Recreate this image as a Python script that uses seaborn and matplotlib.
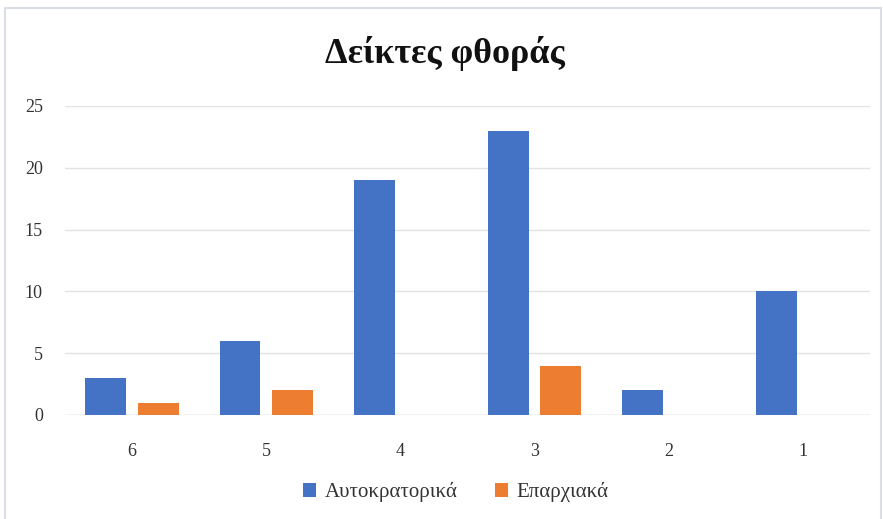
import matplotlib
matplotlib.use("Agg")
import matplotlib.pyplot as plt
import seaborn as sns
import pandas as pd
from matplotlib.patches import Rectangle

categories = ["6", "5", "4", "3", "2", "1"]
series_names = ["Αυτοκρατορικά", "Επαρχιακά"]
imperial = [3, 6, 19, 23, 2, 10]
provincial = [1, 2, 0, 4, 0, 0]
yticks = [0, 5, 10, 15, 20, 25]
title = "Δείκτες φθοράς"

df = pd.DataFrame({
    "cat": categories * 2,
    "val": imperial + provincial,
    "series": [series_names[0]] * len(categories) + [series_names[1]] * len(categories),
})

sns.set_theme(style="white")
plt.rcParams['font.family'] = ['Liberation Serif', 'DejaVu Serif']

fig = plt.figure(figsize=(8.83, 5.19), dpi=100)
ax = fig.add_axes([0.0736, 0.2004, 0.9114, 0.5954])

palette = {series_names[0]: "#4472C4", series_names[1]: "#ED7D31"}
sns.barplot(data=df, x="cat", y="val", hue="series", order=categories,
            hue_order=series_names, palette=palette, width=0.78, gap=0.22,
            saturation=1, ax=ax, legend=True, edgecolor="none")

ax.set_ylim(0, 25)
ax.set_yticks(yticks)
ax.set_xlim(-0.5, len(categories) - 0.5)
ax.grid(axis="y", color="#E3E3E3", linewidth=1)
ax.set_axisbelow(True)
for s in ax.spines.values():
    s.set_visible(False)
ax.axhline(0, color="#DDDDDD", linewidth=1, zorder=0.5)
ax.set_xlabel("")
ax.set_ylabel("")
ax.tick_params(axis="y", length=0, pad=16, labelsize=13, labelcolor="#333333")
ax.tick_params(axis="x", length=0, pad=20, labelsize=13, labelcolor="#333333")

fig.text(0.504, 0.896, title, ha="center", va="center", fontsize=26,
         fontweight="bold", color="#111111")

leg = ax.get_legend()
if leg is not None:
    leg.remove()
handles, labels = ax.get_legend_handles_labels()
fig.legend(handles, labels, loc="center", bbox_to_anchor=(0.516, 0.052),
           ncol=2, frameon=False, fontsize=15, handlelength=0.65,
           handleheight=0.65, handletextpad=0.4, columnspacing=1.8,
           labelcolor="#333333")

fig.patches.append(Rectangle((5 / 883, -0.01), 876 / 883, 1 - 8 / 519 + 0.01,
                             transform=fig.transFigure, fill=False,
                             edgecolor="#D9DEE6", linewidth=1.5))

fig.savefig("out.png", dpi=100)
